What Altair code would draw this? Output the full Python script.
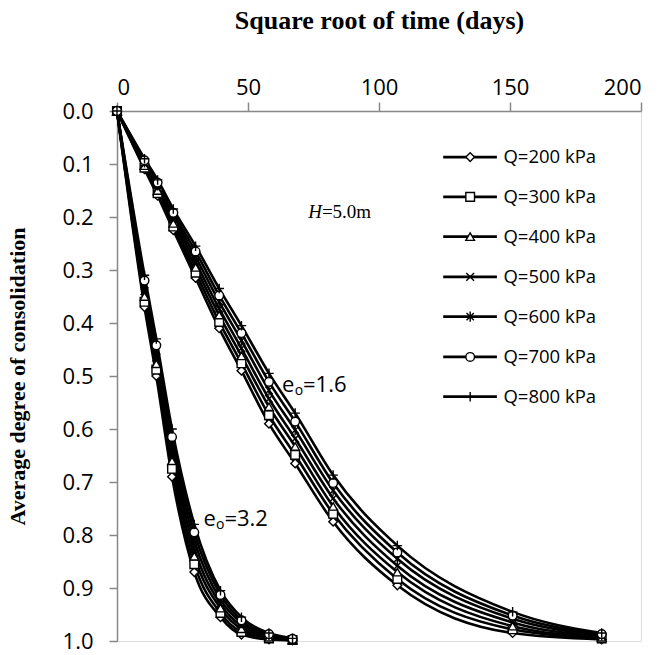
import altair as alt
import pandas as pd

# ---------------- data ----------------
loads = ["Q=200 kPa", "Q=300 kPa", "Q=400 kPa", "Q=500 kPa", "Q=600 kPa", "Q=700 kPa", "Q=800 kPa"]

# e0 = 1.6 group
x16 = [0, 10.5, 15.5, 21.5, 30, 39, 47.5, 58, 68, 82.5, 107, 151, 185]
u16_200 = [0, 0.110, 0.160, 0.225, 0.315, 0.410, 0.490, 0.590, 0.665, 0.775, 0.895, 0.985, 0.997]
u16_300 = [0, 0.107, 0.155, 0.218, 0.305, 0.398, 0.476, 0.574, 0.649, 0.760, 0.883, 0.978, 0.995]
u16_400 = [0, 0.103, 0.150, 0.212, 0.295, 0.385, 0.462, 0.558, 0.633, 0.746, 0.870, 0.972, 0.993]
u16_500 = [0, 0.100, 0.145, 0.205, 0.285, 0.373, 0.448, 0.543, 0.618, 0.731, 0.858, 0.965, 0.991]
u16_600 = [0, 0.097, 0.140, 0.198, 0.275, 0.360, 0.433, 0.527, 0.602, 0.716, 0.845, 0.958, 0.989]
u16_700 = [0, 0.093, 0.135, 0.192, 0.265, 0.348, 0.419, 0.511, 0.586, 0.702, 0.833, 0.952, 0.987]
u16_800 = [0, 0.090, 0.130, 0.185, 0.255, 0.335, 0.405, 0.495, 0.570, 0.687, 0.820, 0.945, 0.985]

# e0 = 3.2 group
x32 = [0, 10.5, 15, 21, 29.5, 39.5, 47.5, 58, 67]
u32_200 = [0, 0.370, 0.500, 0.690, 0.870, 0.955, 0.988, 0.997, 0.999]
u32_300 = [0, 0.360, 0.488, 0.675, 0.855, 0.947, 0.983, 0.995, 0.998]
u32_400 = [0, 0.350, 0.477, 0.660, 0.840, 0.938, 0.977, 0.993, 0.998]
u32_500 = [0, 0.340, 0.465, 0.645, 0.825, 0.930, 0.972, 0.991, 0.997]
u32_600 = [0, 0.330, 0.453, 0.630, 0.810, 0.922, 0.966, 0.989, 0.996]
u32_700 = [0, 0.320, 0.442, 0.615, 0.795, 0.913, 0.961, 0.987, 0.996]
u32_800 = [0, 0.310, 0.430, 0.600, 0.780, 0.905, 0.955, 0.985, 0.995]

groups = {
    "e1.6": (x16, [u16_200, u16_300, u16_400, u16_500, u16_600, u16_700, u16_800]),
    "e3.2": (x32, [u32_200, u32_300, u32_400, u32_500, u32_600, u32_700, u32_800]),
}

# legend entries (in data units)
legend_y = [0.087, 0.162, 0.237, 0.313, 0.388, 0.464, 0.539]
legend_line_x = [124.5, 145.0]
legend_marker_x = 134.8
legend_text_x = 147.5

# annotations: "e" + subscript "o" + value
note_e_x = [63.0, 33.0]
note_o_x = [67.8, 37.8]
note_v_x = [71.0, 41.0]
note_y = [0.517, 0.769]
note_values = ["=1.6", "=3.2"]

marker_shapes = [
    "diamond",
    "square",
    "triangle-up",
    "M-0.9,-0.9L0.9,0.9M0.9,-0.9L-0.9,0.9",
    "M-0.85,-0.85L0.85,0.85M0.85,-0.85L-0.85,0.85M0,-1.2L0,1.2",
    "circle",
    "M-1.1,0L1.1,0M0,-1.1L0,1.1",
]

# ---------------- tables ----------------
rows = []
for g, (xs, series) in groups.items():
    for q, ys in zip(loads, series):
        for i, (xv, yv) in enumerate(zip(xs, ys)):
            rows.append({"group": g, "load": q, "series": g + q, "x": xv, "u": yv, "i": i})
df = pd.DataFrame(rows)

leg = pd.DataFrame({
    "load": loads,
    "ly": legend_y,
    "x1": [legend_line_x[0]] * len(loads),
    "x2": [legend_line_x[1]] * len(loads),
    "mx": [legend_marker_x] * len(loads),
    "tx": [legend_text_x] * len(loads),
})
notes = pd.DataFrame({"ex": note_e_x, "ox": note_o_x, "vx": note_v_x, "y": note_y,
                      "e": ["e", "e"], "o": ["o", "o"], "v": note_values})

# ---------------- scales / axes ----------------
xscale = alt.Scale(domain=[0, 200], nice=False)
yscale = alt.Scale(domain=[0, 1], reverse=True, nice=False)
shape_scale = alt.Scale(domain=loads, range=marker_shapes)

xaxis = alt.Axis(
    orient="top", values=[0, 50, 100, 150, 200], grid=False,
    title="Square root of time (days)", titleFont="Liberation Serif", titleFontSize=26,
    titleFontWeight="bold", titlePadding=43, titleColor="black",
    labelFont="Open Sans", labelFontSize=22, labelColor="black", labelPadding=3,
    tickSize=9, tickColor="#888888", domainColor="#888888", domainWidth=1.5, tickWidth=1.5,
)
yaxis = alt.Axis(
    orient="left", values=[0, 0.1, 0.2, 0.3, 0.4, 0.5, 0.6, 0.7, 0.8, 0.9, 1.0], format=".1f",
    grid=False, title="Average degree of consolidation", titleFont="Liberation Serif",
    titleFontSize=22, titleFontWeight="bold", titlePadding=33, titleColor="black",
    labelFont="Open Sans", labelFontSize=22, labelColor="black", labelPadding=16,
    tickSize=8, tickColor="#888888", domainColor="#888888", domainWidth=1.5, tickWidth=1.5,
)


def X(field):
    return alt.X(field, type="quantitative", scale=xscale, axis=xaxis)


def Y(field):
    return alt.Y(field, type="quantitative", scale=yscale, axis=yaxis)


lines = alt.Chart(df).mark_line(color="black", strokeWidth=2.6, interpolate="monotone").encode(
    x=X("x"), y=Y("u"), detail="series:N", order="i:Q"
)
points = alt.Chart(df).mark_point(filled=False, fill="white", fillOpacity=1, stroke="black",
                                  strokeWidth=1.4, size=75, opacity=1).encode(
    x=X("x"), y=Y("u"),
    shape=alt.Shape("load:N", scale=shape_scale, legend=None),
)

leg_lines = alt.Chart(leg).mark_rule(color="black", strokeWidth=2.6).encode(
    x=X("x1"), x2="x2", y=Y("ly")
)
leg_pts = alt.Chart(leg).mark_point(filled=False, fill="white", fillOpacity=1, stroke="black",
                                    strokeWidth=1.4, size=75, opacity=1).encode(
    x=X("mx"), y=Y("ly"), shape=alt.Shape("load:N", scale=shape_scale, legend=None)
)
leg_txt = alt.Chart(leg).mark_text(align="left", baseline="middle", font="Open Sans",
                                   fontSize=18.5, color="black").encode(
    x=X("tx"), y=Y("ly"), text="load:N"
)

note_base = alt.Chart(notes)
note_e = note_base.mark_text(align="left", baseline="middle", font="Open Sans",
                             fontSize=22, color="black").encode(x=X("ex"), y=Y("y"), text="e:N")
note_o = note_base.mark_text(align="left", baseline="middle", font="Open Sans",
                             fontSize=14, dy=6, color="black").encode(x=X("ox"), y=Y("y"), text="o:N")
note_v = note_base.mark_text(align="left", baseline="middle", font="Open Sans",
                             fontSize=22, color="black").encode(x=X("vx"), y=Y("y"), text="v:N")

h_df = pd.DataFrame({"t": ["H"], "x": [73.0], "y": [0.19]})
h2_df = pd.DataFrame({"t": ["=5.0m"], "x": [78.2], "y": [0.19]})
h_txt = alt.Chart(h_df).mark_text(align="left", baseline="middle", font="Liberation Serif",
                                  fontSize=19, fontStyle="italic", color="black").encode(
    x=X("x"), y=Y("y"), text="t:N"
)
h2_txt = alt.Chart(h2_df).mark_text(align="left", baseline="middle", font="Liberation Serif",
                                    fontSize=19, color="black").encode(
    x=X("x"), y=Y("y"), text="t:N"
)

chart = alt.layer(lines, points, leg_lines, leg_pts, leg_txt, note_e, note_o, note_v,
                  h_txt, h2_txt).properties(
    width=524, height=530,
    autosize=alt.AutoSizeParams(type="none"),
    padding={"left": 117, "top": 111, "right": 22, "bottom": 14},
).configure_view(stroke=None).configure(background="white")

chart.save("out.html", embed_options={"renderer": "svg", "actions": False})
